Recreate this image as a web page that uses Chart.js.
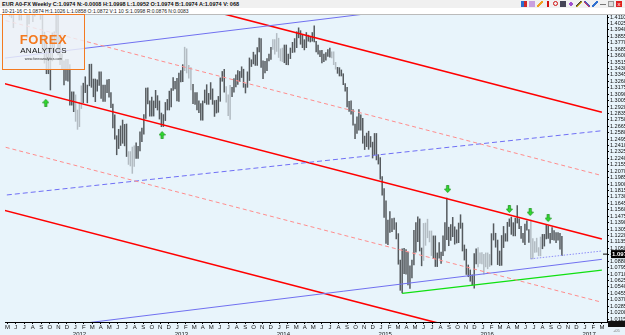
<!DOCTYPE html>
<html>
<head>
  <meta charset="UTF-8">
  <title>EUR A0-FX Weekly</title>
  <script src="https://cdn.jsdelivr.net/npm/chart.js"></script>
  <style>
    html, body { margin: 0; padding: 0; background: #e8f4fb; }
    #wrap { position: relative; width: 625px; height: 335px; overflow: hidden; font-family: "Liberation Sans", Arial, sans-serif; }
    #head1 { position: absolute; left: 0; top: 0; width: 625px; height: 8px; background: #f0f0f0; font-size: 5.5px; font-weight: bold; line-height: 8px; padding-left: 2px; color: #111; }
    #head2 { position: absolute; left: 0; top: 8px; width: 625px; height: 6px; background: #fff; font-size: 5px; line-height: 6px; padding-left: 2px; color: #222; border-bottom: 1px solid #bbb; }
    #tools { position: absolute; right: 3px; top: 1px; height: 7px; display: flex; gap: 2px; }
    #tools span { display: inline-block; width: 6px; height: 6px; }
    #logo { position: absolute; left: 2px; top: 14px; width: 81px; height: 54px; border: 1.5px solid #f47a20; background: rgba(238,242,246,0.82); text-align: center; }
    #logo .f { position: absolute; left: 0; width: 81px; top: 17px; font: bold 13px "Liberation Sans", Arial, sans-serif; color: #f47a20; letter-spacing: 0.5px; }
    #logo .a { position: absolute; left: 0; width: 81px; top: 31px; font: 8px "Liberation Sans", Arial, sans-serif; color: #111; letter-spacing: 0.3px; }
    #logo .w { position: absolute; left: 0; width: 81px; top: 42px; font: 3.5px "Liberation Sans", Arial, sans-serif; color: #333; }
    #corner { position: absolute; left: 608px; top: 321px; width: 17px; height: 6px; background: #111; }
    #corner2 { position: absolute; left: 613px; top: 328px; font-size: 4px; color: #777; }
    canvas { position: absolute; left: 0; top: 0; }
  </style>
</head>
<body>
<div id="wrap">
  <canvas id="chart" width="625" height="335"></canvas>
  <div id="head1">EUR A0-FX Weekly C:1.0974 N:-0.0008 H:1.0998 L:1.0952 O:1.0974 B:1.0974 A:1.0974 V: 068</div>
  <div id="head2">10-21-16 C:1.0874 H:1.1026 L:1.0858 O:1.0872 V:1 10 S:1.0998 R:0.0876 N:0.0083</div>
  <div id="tools">
    <span style="background:linear-gradient(90deg,#2a6fd0 50%,#d02a2a 50%)"></span>
    <span style="background:#c8a0e0"></span>
    <span style="background:linear-gradient(135deg,transparent 40%,#f0a020 40%,#f0a020 60%,transparent 60%)"></span>
    <span style="background:linear-gradient(90deg,transparent 40%,#d01010 40%,#d01010 60%,transparent 60%)"></span>
    <span style="border:1.5px solid #d01010;border-radius:50%;width:3px;height:3px"></span>
    <span style="background:#445"></span>
    <span style="background:radial-gradient(circle,#a050d0 40%,transparent 45%)"></span>
    <span style="background:linear-gradient(135deg,transparent 40%,#333 40%,#e0c020 60%,transparent 60%)"></span>
    <span style="background:linear-gradient(45deg,transparent 40%,#d03060 40%,#3060d0 60%,transparent 60%)"></span>
    <span style="background:linear-gradient(135deg,transparent 40%,#3070d0 40%,#3070d0 60%,transparent 60%)"></span>
    <span style="background:linear-gradient(0deg,transparent 30%,#777 30%,#777 45%,transparent 45%)"></span>
    <span style="border:1px solid #999;width:4px;height:4px;background:#ddd"></span>
    <span style="background:#e02020;color:#fff;font-size:6px;line-height:6px;text-align:center">x</span>
  </div>
  <div id="logo">
    <div class="f">FOREX</div>
    <div class="a">ANALYTICS</div>
    <div class="w">www.forexanalytics.com</div>
  </div>
  <div id="corner"></div>
  <div id="corner2">+05</div>
</div>

<script>
// weekly bars, first bar = week of 2 May 2011, one bar per week
var firstWeek = Date.UTC(2011, 4, 2);

var high2011 = [1.4940,1.4480,1.4345,1.4220,1.4580,1.4700,1.4450,1.4450,1.4580,1.4540,1.4280,1.4440,1.4470,1.4390,1.4440,1.4550,1.4480,1.4550,1.4180,1.3910,1.3840,1.3700,1.3810,1.3900,1.3915,1.4247,1.4150,1.3850,1.3620,1.3530,1.3550,1.3550,1.3480,1.3120,1.3120];
var low2011  = [1.4310,1.4120,1.4100,1.3968,1.4180,1.4330,1.4070,1.4070,1.4150,1.4180,1.3840,1.4020,1.4250,1.4050,1.4120,1.4260,1.4280,1.4080,1.3650,1.3500,1.3360,1.3360,1.3145,1.3530,1.3650,1.3760,1.3610,1.3480,1.3420,1.3213,1.3270,1.3260,1.2945,1.2945,1.2858];

var high2012 = [1.3080,1.2880,1.2980,1.3200,1.3235,1.3320,1.3210,1.3485,1.3487,1.3290,1.3290,1.3280,1.3385,1.3385,1.3210,1.3210,1.3280,1.3285,1.3110,1.2960,1.2815,1.2540,1.2625,1.2670,1.2747,1.2690,1.2695,1.2330,1.2330,1.2390,1.2405,1.2445,1.2400,1.2590,1.2640,1.2820,1.3170,1.3172,1.3000,1.3050,1.3000,1.3140,1.3070,1.3000,1.2840,1.2820,1.2980,1.3020,1.3130,1.3165,1.3308,1.3260,1.3300];
var low2012  = [1.2730,1.2624,1.2660,1.2900,1.2975,1.3110,1.2975,1.3200,1.3180,1.3055,1.2990,1.3130,1.3205,1.3035,1.2995,1.2995,1.3110,1.3050,1.2910,1.2642,1.2493,1.2288,1.2370,1.2410,1.2440,1.2406,1.2265,1.2160,1.2140,1.2042,1.2135,1.2240,1.2240,1.2340,1.2460,1.2560,1.2770,1.2960,1.2800,1.2800,1.2800,1.2910,1.2880,1.2760,1.2660,1.2661,1.2740,1.2880,1.2880,1.2920,1.3140,1.3160,1.3000];

var high2013 = [1.3370,1.3400,1.3480,1.3711,1.3690,1.3470,1.3440,1.3220,1.3110,1.3110,1.3000,1.2965,1.3000,1.3145,1.3215,1.3100,1.3243,1.3160,1.3005,1.3010,1.3060,1.3305,1.3390,1.3417,1.3190,1.3080,1.3205,1.3180,1.3295,1.3345,1.3400,1.3390,1.3452,1.3420,1.3225,1.3385,1.3569,1.3545,1.3645,1.3610,1.3705,1.3832,1.3825,1.3530,1.3525,1.3560,1.3620,1.3710,1.3810,1.3810,1.3893,1.3830];
var low2013  = [1.2995,1.3250,1.3255,1.3400,1.3370,1.3300,1.3145,1.2965,1.2955,1.2880,1.2845,1.2745,1.2745,1.2975,1.2955,1.2955,1.3020,1.2955,1.2795,1.2840,1.2850,1.2995,1.3260,1.3115,1.2985,1.2805,1.2755,1.3055,1.3115,1.3185,1.3220,1.3255,1.3310,1.3180,1.3105,1.3180,1.3270,1.3455,1.3490,1.3470,1.3470,1.3650,1.3445,1.3296,1.3370,1.3400,1.3530,1.3550,1.3680,1.3620,1.3655,1.3575];

var high2014 = [1.3690,1.3700,1.3740,1.3740,1.3620,1.3700,1.3775,1.3825,1.3915,1.3967,1.3930,1.3875,1.3810,1.3905,1.3870,1.3850,1.3905,1.3993,1.3790,1.3740,1.3665,1.3670,1.3620,1.3640,1.3680,1.3700,1.3650,1.3650,1.3510,1.3445,1.3440,1.3410,1.3360,1.3230,1.3180,1.2995,1.3000,1.2885,1.2695,1.2790,1.2887,1.2815,1.2770,1.2535,1.2575,1.2600,1.2530,1.2455,1.2570,1.2570,1.2290,1.2250];
var low2014  = [1.3530,1.3520,1.3505,1.3480,1.3478,1.3560,1.3640,1.3645,1.3705,1.3835,1.3750,1.3705,1.3675,1.3705,1.3790,1.3780,1.3790,1.3780,1.3650,1.3620,1.3585,1.3503,1.3520,1.3540,1.3590,1.3580,1.3570,1.3480,1.3420,1.3365,1.3330,1.3330,1.3215,1.3130,1.2920,1.2860,1.2825,1.2680,1.2501,1.2570,1.2615,1.2615,1.2440,1.2357,1.2395,1.2360,1.2390,1.2245,1.2290,1.2220,1.2165,1.1965];

var high2015 = [1.2000,1.1840,1.1680,1.1425,1.1535,1.1445,1.1450,1.1390,1.1245,1.0895,1.1045,1.1052,1.1035,1.1000,1.0820,1.0895,1.1290,1.1390,1.1467,1.1440,1.1055,1.1380,1.1385,1.1436,1.1280,1.1280,1.1215,1.1215,1.0990,1.1125,1.1000,1.1215,1.1390,1.1714,1.1330,1.1365,1.1460,1.1335,1.1295,1.1385,1.1495,1.1385,1.1095,1.1040,1.0830,1.0765,1.0700,1.0981,1.1045,1.1060,1.0990,1.0995];
var low2015  = [1.1755,1.1460,1.1115,1.1098,1.1260,1.1270,1.1300,1.1175,1.0840,1.0495,1.0462,1.0715,1.0710,1.0565,1.0520,1.0660,1.0830,1.1000,1.1140,1.1015,1.0819,1.0890,1.1090,1.1190,1.1135,1.0955,1.0915,1.0810,1.0809,1.0920,1.0850,1.0955,1.1015,1.1165,1.1085,1.1155,1.1205,1.1105,1.1120,1.1125,1.1315,1.1015,1.0895,1.0705,1.0675,1.0615,1.0565,1.0524,1.0845,1.0805,1.0850,1.0845];

var high2016 = [1.0970,1.0990,1.0990,1.0970,1.1245,1.1376,1.1250,1.1160,1.1015,1.1220,1.1340,1.1245,1.1395,1.1440,1.1464,1.1390,1.1450,1.1616,1.1440,1.1340,1.1250,1.1370,1.1415,1.1300,1.1427,1.1180,1.1140,1.1185,1.1060,1.1200,1.1235,1.1235,1.1366,1.1340,1.1250,1.1325,1.1285,1.1260,1.1260,1.1250,1.1210];
var low2016  = [1.0710,1.0805,1.0780,1.0810,1.0830,1.1160,1.1065,1.0835,1.0822,1.0825,1.1060,1.1145,1.1145,1.1340,1.1235,1.1215,1.1215,1.1385,1.1310,1.1180,1.1130,1.1098,1.1290,1.1130,1.0912,1.0910,1.0995,1.1000,1.0952,1.0950,1.1045,1.1080,1.1175,1.1180,1.1120,1.1165,1.1160,1.1125,1.1160,1.1040,1.0953];

// weeks drawn in light grey (start, end week dates)
var greyWeeks = [
  ["2012-01-02", "2012-01-23"],
  ["2012-07-09", "2012-07-30"],
  ["2013-01-28", "2013-02-18"],
  ["2013-06-24", "2013-07-08"],
  ["2013-12-09", "2014-01-13"],
  ["2014-07-07", "2014-07-21"],
  ["2015-06-01", "2015-06-29"],
  ["2015-12-14", "2016-01-25"],
  ["2016-06-20", "2016-07-25"]
];

var lastClose = 1.0974;

// right axis tick labels
var yTicks = [];
for (var t = 1.4110; t > 1.0100; t -= 0.0085) yTicks.push(+t.toFixed(4));

// trend lines, [month, price]; month 0 = May 2011
var redUpper   = [[-1, 1.4924], [70, 1.2851]];
var redMiddle  = [[-1, 1.3248], [70, 1.1175]];
var redLower   = [[-1, 1.1572], [70, 0.9499]];
var pinkUpper  = [[-1, 1.4086], [70, 1.2013]];
var pinkLower  = [[-1, 1.2410], [70, 1.0337]];
var blueUpper  = [[-1, 1.3557], [70, 1.4534]];
var blueLower  = [[-1, 0.9921], [70, 1.0905]];
var blueMid    = [[-1, 1.1745], [70, 1.2606]];
var blueDotted = [[61.63, 1.0912], [70, 1.1015]];
var greenLine  = [[46.48, 1.0455], [70, 1.0763]];

var upArrows   = [[4.52, 1.2976], [18.22, 1.2549]];
var downArrows = [[51.84, 1.1835], [59.1, 1.1570], [61.56, 1.1530], [63.67, 1.1450]];

var monthLetters = ["J", "F", "M", "A", "M", "J", "J", "A", "S", "O", "N", "D"];

function monthPos(ms) {
  var d = new Date(ms);
  var y = d.getUTCFullYear(), m = d.getUTCMonth();
  var dim = new Date(Date.UTC(y, m + 1, 0)).getUTCDate();
  return (y - 2011) * 12 + m - 4 + (d.getUTCDate() - 1) / dim;
}

var highs = high2011.concat(high2012, high2013, high2014, high2015, high2016);
var lows = low2011.concat(low2012, low2013, low2014, low2015, low2016);

var barData = [], barColors = [];
for (var i = 0; i < highs.length; i++) {
  var ms = firstWeek + i * 7 * 86400000;
  barData.push({ x: monthPos(ms), y: [lows[i], highs[i]] });
  var grey = greyWeeks.some(function (r) { return ms >= Date.parse(r[0]) && ms <= Date.parse(r[1]); });
  barColors.push(grey ? "#b3bcc3" : "#555a5e");
}

function pts(arr) { return arr.map(function (p) { return { x: p[0], y: p[1] }; }); }

function lineSet(arr, color, width, dash) {
  return { type: "line", data: pts(arr), borderColor: color, borderWidth: width, borderDash: dash || [], pointRadius: 0, fill: false, order: 0 };
}

function makeArrow(up) {
  var c = document.createElement("canvas");
  c.width = 7; c.height = 8;
  var g = c.getContext("2d");
  g.fillStyle = "#2ee02e"; g.strokeStyle = "#159015"; g.lineWidth = 0.8;
  g.beginPath();
  if (up) {
    g.moveTo(3.5, 0.5); g.lineTo(6.5, 4); g.lineTo(4.6, 4); g.lineTo(4.6, 7.5);
    g.lineTo(2.4, 7.5); g.lineTo(2.4, 4); g.lineTo(0.5, 4);
  } else {
    g.moveTo(3.5, 7.5); g.lineTo(6.5, 4); g.lineTo(4.6, 4); g.lineTo(4.6, 0.5);
    g.lineTo(2.4, 0.5); g.lineTo(2.4, 4); g.lineTo(0.5, 4);
  }
  g.closePath(); g.fill(); g.stroke();
  return c;
}
var upImg = makeArrow(true), downImg = makeArrow(false);

// price box on the right axis
var priceBox = {
  id: "priceBox",
  afterDraw: function (chart) {
    var ctx = chart.ctx, y = chart.scales.y.getPixelForValue(lastClose);
    var x0 = chart.chartArea.right;
    ctx.save();
    ctx.fillStyle = "#000";
    ctx.fillRect(x0 + 4, y - 4, 625 - x0 - 4, 8);
    ctx.beginPath();
    ctx.moveTo(x0 - 4, y); ctx.lineTo(x0 + 1, y);
    ctx.strokeStyle = "#000"; ctx.lineWidth = 1; ctx.stroke();
    ctx.fillStyle = "#fff";
    ctx.font = "bold 6px 'Liberation Sans', Arial, sans-serif";
    ctx.textBaseline = "middle";
    ctx.fillText(lastClose.toFixed(4), x0 + 5, y + 0.5);
    ctx.restore();
  }
};

var ctx = document.getElementById("chart").getContext("2d");
var chart = new Chart(ctx, {
  type: "bar",
  data: {
    datasets: [
      lineSet(pinkUpper, "#ff8c8c", 1, [4, 3]),
      lineSet(pinkLower, "#ff8c8c", 1, [4, 3]),
      lineSet(blueMid, "#6f6ff5", 1, [5, 3]),
      lineSet(blueDotted, "#8f8ff8", 1, [1.5, 1.5]),
      lineSet(blueUpper, "#7070f0", 1),
      lineSet(blueLower, "#7070f0", 1),
      lineSet(greenLine, "#10e010", 1.3),
      lineSet(redUpper, "#ff0000", 1.6),
      lineSet(redMiddle, "#ff0000", 1.6),
      lineSet(redLower, "#ff0000", 1.6),
      {
        type: "bar", data: barData, backgroundColor: barColors,
        barThickness: 0.85, borderWidth: 0, order: 1
      },
      {
        type: "line", showLine: false, order: -1,
        data: pts(upArrows.concat(downArrows)),
        pointStyle: upArrows.map(function () { return upImg; }).concat(downArrows.map(function () { return downImg; })),
        pointRadius: 4
      }
    ]
  },
  options: {
    responsive: false,
    animation: false,
    layout: { padding: { top: 14, left: 2, right: 0, bottom: 0 } },
    plugins: { legend: { display: false }, tooltip: { enabled: false } },
    scales: {
      x: {
        type: "linear", min: -0.28, max: 70.6, offset: false,
        grid: { display: true, drawOnChartArea: false, tickLength: 2, color: "#000", offset: false },
        border: { color: "#000" },
        ticks: {
          autoSkip: false, maxRotation: 0, padding: 0, color: "#111",
          font: { size: 6, family: "'Liberation Sans', Arial, sans-serif" },
          callback: function (v) {
            var cal = (4 + v) % 12;
            var yr = 2011 + Math.floor((4 + v) / 12);
            if (cal === 0) return [monthLetters[cal], "     " + yr];
            return monthLetters[cal];
          }
        },
        afterBuildTicks: function (s) {
          var tk = [];
          for (var m = 0; m <= 70; m++) tk.push({ value: m });
          s.ticks = tk;
        },
        afterFit: function (s) { s.height = 13; }
      },
      y: {
        position: "right", min: 1.0076, max: 1.4150,
        grid: { display: true, drawOnChartArea: false, tickLength: 2, color: "#000" },
        border: { color: "#000" },
        ticks: {
          autoSkip: false, padding: 1, color: "#111",
          font: { size: 5.5, family: "'Liberation Sans', Arial, sans-serif" },
          callback: function (v) { return v.toFixed(4); }
        },
        afterBuildTicks: function (s) { s.ticks = yTicks.map(function (v) { return { value: v }; }); },
        afterFit: function (s) { s.width = 18; }
      }
    }
  },
  plugins: [priceBox]
});
</script>
</body>
</html>
